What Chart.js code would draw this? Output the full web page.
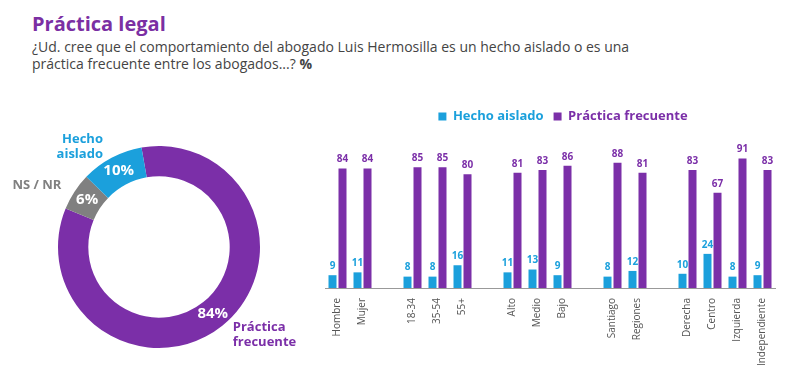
<!DOCTYPE html>
<html>
<head>
<meta charset="utf-8">
<script src="https://cdn.jsdelivr.net/npm/chart.js@4.4.1/dist/chart.umd.min.js"></script>
<style>
  html, body { margin: 0; padding: 0; background: #fff; overflow: hidden; }
  body { width: 800px; height: 389px; position: relative; font-family: 'Open Sans', sans-serif; }
  .title { position: absolute; left: 32px; top: 10px; font-size: 20px; font-weight: 700; color: #7b2fa3; }
  .subtitle { position: absolute; left: 32px; top: 38px; width: 640px; font-size: 14px; line-height: 17px; color: #444; }
  .subtitle b { font-weight: 700; }
  #donutBox { position: absolute; left: 0; top: 120px; width: 318px; height: 254px; }
  #barBox { position: absolute; left: 300px; top: 100px; width: 490px; height: 289px; }
</style>
</head>
<body>
<div class="title">Práctica legal</div>
<div class="subtitle">¿Ud. cree que el comportamiento del abogado Luis Hermosilla es un hecho aislado o es una práctica frecuente entre los abogados...? <b>%</b></div>
<div id="donutBox"><canvas id="donut"></canvas></div>
<div id="barBox"><canvas id="bars"></canvas></div>
<script>
// ---- data ----
const donutLabels = ['Práctica frecuente', 'NS / NR', 'Hecho aislado'];
const donutValues = [84, 6, 10];
const donutColors = ['#7b2fa8', '#808080', '#1ba0dc'];
const donutOuterText = [['Práctica', 'frecuente'], ['NS / NR'], ['Hecho', 'aislado']];

const categories = ['Hombre', 'Mujer', '', '18-34', '35-54', '55+', '', 'Alto', 'Medio', 'Bajo', '',
  'Santiago', 'Regiones', '', 'Derecha', 'Centro', 'Izquierda', 'Independiente'];
const hechoAislado = [9, 11, null, 8, 8, 16, null, 11, 13, 9, null, 8, 12, null, 10, 24, 8, 9];
const practicaFrecuente = [84, 84, null, 85, 85, 80, null, 81, 83, 86, null, 88, 81, null, 83, 67, 91, 83];

const PURPLE = '#7b2fa8';
const BLUE = '#1ba0dc';
const FONT = "'Open Sans', sans-serif";

// ---- doughnut labels ----
const donutLabelPlugin = {
  id: 'donutLabels',
  afterDatasetsDraw(chart) {
    const ctx = chart.ctx;
    const meta = chart.getDatasetMeta(0);
    ctx.save();
    meta.data.forEach((arc, i) => {
      // value inside the ring
      const p = arc.tooltipPosition();
      ctx.fillStyle = '#fff';
      ctx.font = `700 15px ${FONT}`;
      ctx.textAlign = 'center';
      ctx.textBaseline = 'middle';
      ctx.fillText(donutValues[i] + '%', p.x, p.y);

      // category name outside
      const mid = (arc.startAngle + arc.endAngle) / 2;
      const r = arc.outerRadius + 12;
      const x = arc.x + Math.cos(mid) * r;
      const y = arc.y + Math.sin(mid) * r;
      const left = x < arc.x;
      const lines = donutOuterText[i];
      ctx.fillStyle = donutColors[i];
      ctx.font = `700 13px ${FONT}`;
      ctx.textAlign = left ? 'right' : 'left';
      const lh = 15;
      lines.forEach((t, k) => {
        ctx.fillText(t, x + (left ? -3 : 3), y + (k - (lines.length - 1) / 2) * lh);
      });
    });
    ctx.restore();
  }
};

new Chart(document.getElementById('donut'), {
  type: 'doughnut',
  data: {
    labels: donutLabels,
    datasets: [{ data: donutValues, backgroundColor: donutColors, borderWidth: 0 }]
  },
  options: {
    responsive: true,
    maintainAspectRatio: false,
    animation: false,
    rotation: -10,
    cutout: '70%',
    layout: { padding: 26 },
    plugins: { legend: { display: false }, tooltip: { enabled: false } }
  },
  plugins: [donutLabelPlugin]
});

// ---- bar value labels ----
const barValuePlugin = {
  id: 'barValues',
  afterDatasetsDraw(chart) {
    const ctx = chart.ctx;
    ctx.save();
    ctx.font = `700 10px ${FONT}`;
    ctx.textAlign = 'center';
    ctx.textBaseline = 'bottom';
    chart.data.datasets.forEach((ds, di) => {
      const meta = chart.getDatasetMeta(di);
      ctx.fillStyle = ds.backgroundColor;
      meta.data.forEach((bar, i) => {
        const v = ds.data[i];
        if (v == null) return;
        ctx.fillText(v, bar.x, bar.y - 4);
      });
    });
    ctx.restore();
  }
};

// legend sits a bit right of the plot centre in the reference
const legendShift = {
  id: 'legendShift',
  afterLayout(chart) {
    chart.legend.left += 13;
    chart.legend.right += 13;
  }
};

new Chart(document.getElementById('bars'), {
  type: 'bar',
  data: {
    labels: categories,
    datasets: [
      { label: 'Hecho aislado', data: hechoAislado, backgroundColor: BLUE },
      { label: 'Práctica frecuente', data: practicaFrecuente, backgroundColor: PURPLE }
    ]
  },
  options: {
    responsive: true,
    maintainAspectRatio: false,
    animation: false,
    layout: { padding: { left: 25, right: 15, top: 0, bottom: 6 } },
    datasets: { bar: { barPercentage: 0.8, categoryPercentage: 0.8 } },
    plugins: {
      tooltip: { enabled: false },
      legend: {
        position: 'top',
        labels: {
          boxWidth: 8,
          boxHeight: 8,
          padding: 10,
          font: { family: FONT, size: 13, weight: '700' },
          generateLabels(chart) {
            return chart.data.datasets.map((ds, i) => ({
              text: ds.label,
              fillStyle: ds.backgroundColor,
              strokeStyle: ds.backgroundColor,
              lineWidth: 0,
              fontColor: ds.backgroundColor,
              datasetIndex: i
            }));
          }
        }
      }
    },
    scales: {
      x: {
        grid: { display: false, drawTicks: true, tickLength: 5, tickColor: '#999' },
        border: { color: '#999' },
        ticks: {
          autoSkip: false,
          maxRotation: 90,
          minRotation: 90,
          padding: 5,
          color: '#555',
          font: { family: FONT, size: 10 }
        },
        afterFit(scale) { scale.height = 95; }
      },
      y: {
        display: false,
        min: 0,
        max: 109
      }
    }
  },
  plugins: [barValuePlugin, legendShift]
});
</script>
</body>
</html>
